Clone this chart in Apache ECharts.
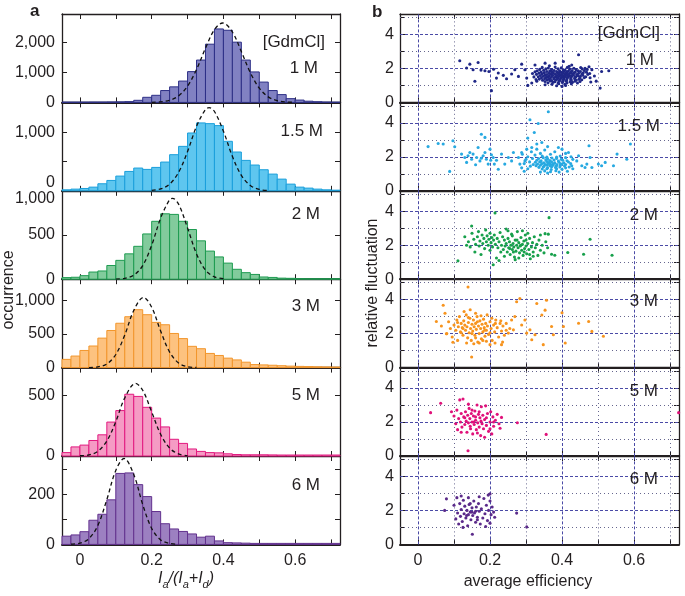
<!DOCTYPE html>
<html><head><meta charset="utf-8">
<script src="https://cdn.jsdelivr.net/npm/echarts@6/dist/echarts.min.js"></script>
<style>html,body{margin:0;padding:0;background:#fff}#c{width:685px;height:596px}</style>
</head><body><div id="c"></div>
<script>
// ---------- DATA ----------
const panelNames = ['1 M', '1.5 M', '2 M', '3 M', '5 M', '6 M'];
const binWidth = 0.025;
const binLeft = [-0.05,-0.025,0,0.025,0.05,0.075,0.1,0.125,0.15,0.175,0.2,0.225,0.25,0.275,0.3,0.325,0.35,0.375,0.4,0.425,0.45,0.475,0.5,0.525,0.55,0.575,0.6,0.625,0.65,0.675,0.7];

const hist1M  = [10,10,10,12,12,15,18,25,70,170,237,396,519,712,1027,1413,1943,2451,2407,2010,1413,1017,678,396,260,125,78,40,22,12,8];
const hist15M = [17,29,40,63,121,178,253,333,391,368,402,494,621,764,994,1167,1155,1121,851,667,523,443,362,287,201,115,63,46,29,17,11];
const hist2M  = [18,22,40,81,93,155,213,287,372,512,655,740,733,655,562,434,318,252,182,112,74,54,25,20,12,10,6,5,5,5,5];
const hist3M  = [122,171,254,320,437,550,657,754,858,784,670,635,506,430,315,280,210,180,140,114,80,45,40,35,28,22,18,15,12,10,8];
const hist5M  = [28,75,90,128,175,280,375,510,492,402,313,240,138,104,58,38,28,26,18,12,10,10,10,9,8,8,8,8,8,8,8];
const hist6M  = [33,38,51,97,121,179,285,287,240,192,132,83,62,52,42,29,33,14,7,6,5,4,4,4,4,4,4,4,4,4,4];

// dashed fit curves
const fit1M  = [[0.2,4],[0.225,19],[0.25,71],[0.275,217],[0.3,542],[0.325,1098],[0.35,1810],[0.375,2428],[0.398,2650],[0.425,2349],[0.45,1695],[0.475,994],[0.5,474],[0.525,184],[0.55,58],[0.575,15],[0.6,3]];
const fit15M = [[0.2,7],[0.225,32],[0.25,115],[0.275,317],[0.3,675],[0.325,1108],[0.35,1400],[0.36,1430],[0.375,1364],[0.4,1025],[0.425,593],[0.45,265],[0.475,91],[0.5,24],[0.525,5]];
const fit2M  = [[0.1,1],[0.125,9],[0.15,45],[0.175,154],[0.2,384],[0.225,691],[0.25,900],[0.258,915],[0.275,849],[0.3,580],[0.325,287],[0.35,103],[0.375,27],[0.4,5]];
const fit3M  = [[0.025,1],[0.05,11],[0.075,54],[0.1,194],[0.125,483],[0.15,846],[0.177,1040],[0.2,895],[0.225,541],[0.25,230],[0.275,68],[0.3,14],[0.325,2]];
const fit5M  = [[0,2],[0.025,9],[0.05,39],[0.075,124],[0.1,284],[0.125,480],[0.155,600],[0.175,543],[0.2,364],[0.225,179],[0.25,65],[0.275,17],[0.3,3]];
const fit6M  = [[-0.025,1],[0,5],[0.025,23],[0.05,76],[0.075,180],[0.1,297],[0.123,345],[0.15,281],[0.175,160],[0.2,64],[0.225,18],[0.25,4],[0.275,0]];

const histMax = [2950, 1520, 1000, 1310, 730, 355];
const histInterval = [1000, 500, 500, 500, 500, 100];
const histLabels = [[0,1000,2000],[0,1000],[0,500,1000],[0,500,1000],[0,500],[0,200]];
const xTicks = [0,0.1,0.2,0.3,0.4,0.5,0.6,0.7];
const xTickLabels = [0,0.2,0.4,0.6];
const fluctTicks = [0,2,4];

// scatter: [average efficiency, relative fluctuation]
const scat1M = [[0.116,2.45],[0.144,2.25],[0.167,2.35],[0.135,2.02],[0.153,1.92],[0.158,1.24],[0.186,1.86],[0.197,1.82],[0.204,0.69],[0.218,1.43],[0.223,1.73],[0.237,1.59],[0.26,1.67],[0.269,1.92],[0.246,1.39],[0.288,2.25],[0.297,1.92],[0.302,1.43],[0.305,1.0],[0.279,1.53],[0.175,1.9],[0.21,1.95],
[0.446,2.8],[0.404,2.41],[0.483,1.92],[0.51,1.82],[0.506,0.84],[0.53,1.86],[0.353,2.31],[0.325,2.2],[0.353,1.04],[0.316,1.14],[0.381,2.31],[0.427,2.2],[0.464,2.0],[0.40,0.94],[0.49,1.55],[0.495,1.25],[0.318,1.7],[0.322,1.5],[0.48,1.2],[0.475,2.1],
[0.345,2.06],[0.362,2.02],[0.381,2.08],[0.398,2.03],[0.415,2.07],[0.433,2.01],[0.452,2.05],
[0.338,1.94],[0.355,1.97],[0.371,1.93],[0.389,1.98],[0.404,1.92],[0.421,1.96],[0.439,1.93],[0.456,1.97],[0.47,1.94],
[0.331,1.86],[0.349,1.89],[0.366,1.85],[0.378,1.88],[0.393,1.86],[0.409,1.89],[0.418,1.84],[0.428,1.88],[0.445,1.86],[0.462,1.88],
[0.342,1.79],[0.358,1.82],[0.372,1.78],[0.385,1.81],[0.397,1.79],[0.405,1.82],[0.414,1.78],[0.426,1.81],[0.437,1.79],[0.451,1.82],[0.468,1.78],
[0.336,1.72],[0.351,1.75],[0.364,1.71],[0.376,1.74],[0.388,1.72],[0.393,1.75],[0.402,1.71],[0.411,1.74],[0.423,1.72],[0.434,1.75],[0.446,1.71],[0.459,1.74],
[0.329,1.65],[0.345,1.68],[0.358,1.64],[0.369,1.67],[0.381,1.65],[0.391,1.68],[0.399,1.64],[0.408,1.67],[0.417,1.65],[0.429,1.68],[0.441,1.64],[0.455,1.67],[0.472,1.65],
[0.34,1.58],[0.353,1.61],[0.365,1.57],[0.374,1.6],[0.386,1.58],[0.395,1.61],[0.404,1.57],[0.413,1.6],[0.421,1.58],[0.432,1.61],[0.444,1.57],[0.458,1.6],
[0.334,1.51],[0.348,1.54],[0.361,1.5],[0.372,1.53],[0.383,1.51],[0.392,1.54],[0.401,1.5],[0.409,1.53],[0.418,1.51],[0.427,1.54],[0.438,1.5],[0.451,1.53],[0.466,1.51],
[0.343,1.44],[0.356,1.47],[0.368,1.43],[0.379,1.46],[0.389,1.44],[0.398,1.47],[0.406,1.43],[0.415,1.46],[0.425,1.44],[0.436,1.47],[0.449,1.43],[0.462,1.46],
[0.337,1.37],[0.352,1.4],[0.364,1.36],[0.377,1.39],[0.387,1.37],[0.396,1.4],[0.405,1.36],[0.414,1.39],[0.424,1.37],[0.435,1.4],[0.447,1.36],
[0.346,1.3],[0.359,1.33],[0.371,1.29],[0.383,1.32],[0.394,1.3],[0.403,1.33],[0.413,1.29],[0.426,1.32],[0.439,1.3],[0.455,1.33],
[0.353,1.23],[0.367,1.26],[0.38,1.22],[0.392,1.25],[0.402,1.23],[0.411,1.26],[0.423,1.22],[0.436,1.25],[0.45,1.23],
[0.361,1.15],[0.375,1.18],[0.389,1.14],[0.401,1.17],[0.414,1.15],[0.429,1.18],[0.443,1.14],
[0.372,1.07],[0.391,1.1],[0.408,1.06],[0.426,1.09],[0.385,0.98],[0.41,0.99],
[0.325,1.8],[0.328,1.35],[0.477,1.7],[0.478,1.45],[0.365,2.15],[0.42,2.12],[0.33,1.25]];

const scat15M = [[0.362,4.65],[0.311,4.18],[0.334,3.96],[0.323,3.43],[0.305,3.1],[0.176,3.33],[0.186,3.14],[0.097,2.94],[0.59,2.75],[0.475,2.65],
[0.028,2.6],[0.056,2.78],[0.07,2.75],[0.088,1.14],[0.102,2.59],[0.121,2.16],[0.13,1.96],[0.139,2.06],[0.149,1.86],[0.153,2.16],[0.163,1.96],[0.167,2.55],[0.172,1.76],[0.181,2.06],[0.186,2.25],[0.19,1.86],[0.195,1.57],[0.2,2.45],[0.204,2.12],[0.209,1.96],[0.218,1.8],[0.223,1.27],[0.232,2.16],[0.241,1.57],[0.251,1.96],[0.26,1.76],[0.265,2.25],
[0.135,1.67],[0.144,2.25],[0.16,1.53],[0.176,1.92],[0.202,1.8],[0.212,1.57],
[0.4,1.57],[0.427,1.47],[0.441,1.76],[0.455,1.47],[0.464,1.37],[0.469,1.57],[0.478,1.96],[0.483,1.37],[0.501,1.57],[0.51,1.47],[0.52,1.67],[0.543,1.47],[0.553,2.16],[0.58,1.86],[0.39,2.55],[0.418,2.25],[0.446,2.06],
[0.279,1.96],[0.288,2.25],[0.302,2.45],[0.297,1.76],[0.283,1.57],[0.316,2.55],[0.33,2.75],[0.344,2.84],
[0.335,1.9],[0.348,1.95],[0.36,1.88],[0.372,1.93],[0.385,1.9],[0.398,1.85],
[0.33,1.8],[0.342,1.76],[0.355,1.82],[0.366,1.78],[0.378,1.81],[0.39,1.75],[0.402,1.8],[0.414,1.77],
[0.326,1.68],[0.338,1.7],[0.35,1.65],[0.358,1.72],[0.364,1.66],[0.371,1.7],[0.38,1.64],[0.392,1.68],[0.405,1.65],[0.418,1.69],
[0.332,1.58],[0.344,1.6],[0.353,1.55],[0.361,1.61],[0.368,1.56],[0.376,1.59],[0.386,1.54],[0.396,1.58],[0.41,1.55],[0.424,1.6],
[0.328,1.48],[0.34,1.5],[0.35,1.45],[0.359,1.51],[0.367,1.47],[0.375,1.5],[0.384,1.45],[0.395,1.49],[0.407,1.46],
[0.336,1.38],[0.348,1.4],[0.36,1.36],[0.371,1.41],[0.382,1.37],[0.394,1.4],[0.41,1.35],
[0.345,1.28],[0.358,1.3],[0.37,1.25],[0.385,1.29],[0.4,1.27],
[0.352,1.17],[0.368,1.12],[0.383,1.18],[0.36,1.05],[0.392,1.1],
[0.305,2.0],[0.31,1.7],[0.315,2.3],[0.32,1.55],[0.318,1.9],[0.325,2.1],[0.34,2.2],[0.352,2.4],[0.368,2.15],[0.38,2.3],[0.395,2.05],[0.41,2.2],[0.425,2.0],[0.43,1.85],[0.42,1.4],[0.43,1.3],[0.305,1.3],[0.312,1.45],[0.295,1.6],[0.3,1.85],[0.33,2.45],[0.36,2.6],[0.4,2.45],[0.345,2.05],[0.358,1.98],[0.385,1.98],[0.41,1.95],[0.29,2.15],[0.288,1.35],[0.295,1.15],[0.34,1.1],[0.415,1.15]];

const scat2M = [[0.111,1.08],[0.149,3.13],[0.214,3.9],[0.364,3.62],[0.478,2.35],[0.539,1.41],[0.46,1.47],[0.416,1.57],[0.38,1.41],[0.371,1.47],[0.353,2.68],[0.362,2.65],[0.209,0.85],
[0.13,2.5],[0.135,2.0],[0.14,2.2],[0.145,1.9],[0.15,2.7],[0.155,2.35],[0.158,1.6],[0.16,2.05],[0.165,2.5],[0.168,2.8],[0.17,1.95],[0.172,2.25],[0.175,1.45],[0.178,2.6],[0.18,2.1],[0.183,2.4],[0.185,1.8],[0.188,2.9],[0.19,2.2],[0.192,2.55],[0.195,2.0],[0.197,2.35],[0.2,1.7],[0.2,2.7],[0.203,2.15],[0.205,2.45],[0.207,1.9],[0.21,2.3],[0.212,2.6],[0.215,2.05],[0.218,1.25],[0.22,2.4],[0.222,1.85],[0.225,2.2],[0.228,2.75],[0.23,1.6],[0.232,2.0],[0.235,2.5],[0.237,1.75],[0.24,2.3],
[0.242,1.95],[0.245,2.1],[0.248,1.6],[0.25,2.4],[0.252,1.85],[0.254,2.2],[0.256,1.45],[0.258,2.0],[0.26,2.65],[0.262,1.75],[0.264,2.1],[0.266,1.9],[0.268,1.3],[0.27,2.3],[0.272,1.65],[0.274,2.0],[0.276,2.8],[0.278,1.85],[0.28,2.15],[0.282,1.55],[0.284,1.95],[0.286,2.45],[0.288,1.7],[0.29,2.05],[0.292,1.4],[0.294,2.25],[0.296,1.8],[0.298,2.6],[0.3,1.95],[0.302,1.5],[0.305,2.1],[0.308,1.75],[0.31,2.4],[0.312,1.2],[0.315,1.9],[0.318,2.15],[0.32,1.6],[0.323,2.5],[0.326,1.85],[0.33,2.05],[0.333,1.4],[0.336,2.3],[0.34,1.7],[0.345,2.0],[0.35,1.55],[0.355,2.2],[0.36,1.85],[0.25,2.85],[0.262,2.55],[0.27,1.15],[0.29,2.85],[0.305,2.7],[0.24,1.35],[0.225,1.1],[0.245,2.95],[0.32,1.35],[0.28,1.25],[0.34,2.6],[0.275,2.3],[0.285,2.0],[0.265,1.6],[0.255,1.8],[0.295,1.6],[0.3,2.3],[0.31,1.45]];

const scat3M = [[0.139,4.74],[0.07,3.67],[0.051,2.71],[0.079,1.99],[0.097,1.49],[0.149,0.62],[0.274,3.87],[0.283,4.06],[0.33,3.77],[0.357,3.96],[0.353,3.38],[0.344,3.09],[0.4,3.23],[0.404,2.42],[0.371,2.42],[0.376,1.93],[0.409,1.45],[0.446,2.61],[0.474,2.71],[0.483,2.13],[0.515,1.84],[0.348,1.35],[0.325,1.93],[0.302,2.03],[0.288,2.51],[0.265,2.22],[0.251,2.03],[0.269,3.0],[0.297,2.8],[0.311,2.22],[0.316,1.64],[0.232,1.35],[0.214,1.45],
[0.1,2.5],[0.105,2.2],[0.108,2.8],[0.112,2.4],[0.115,3.0],[0.118,2.1],[0.12,2.6],[0.123,2.35],[0.125,1.9],[0.127,2.75],[0.13,2.5],[0.132,2.2],[0.134,3.1],[0.136,2.4],[0.138,1.75],[0.14,2.65],[0.142,2.05],[0.144,2.9],[0.146,2.3],[0.148,1.6],[0.15,2.55],[0.152,2.15],[0.154,2.8],[0.156,2.4],[0.158,1.9],[0.16,2.6],[0.162,2.25],[0.164,3.0],[0.166,1.5],[0.168,2.45],[0.17,2.0],[0.172,2.75],[0.174,2.3],[0.176,1.7],[0.178,2.55],[0.18,2.1],[0.182,2.85],[0.184,2.35],[0.186,1.85],[0.188,2.6],[0.19,2.2],[0.193,2.45],[0.196,1.95],[0.2,2.7],[0.203,2.3],[0.206,1.6],[0.21,2.5],[0.213,2.1],[0.216,2.8],[0.22,2.35],[0.224,1.8],[0.228,2.6],[0.232,2.15],[0.236,2.45],[0.24,1.9],
[0.09,2.3],[0.085,2.7],[0.08,2.0],[0.075,3.2],[0.065,2.45],[0.095,1.8],[0.11,1.6],[0.128,3.3],[0.145,3.4],[0.16,3.2],[0.175,3.05],[0.192,3.1],[0.135,1.45],[0.155,1.4],[0.17,1.45],[0.19,1.55],[0.2,1.35],[0.14,2.95],[0.165,2.7],[0.185,2.2],[0.15,2.0],[0.125,2.3],[0.2,2.05],[0.215,2.6],[0.23,2.75],[0.245,2.6],[0.255,2.3],[0.26,2.8],[0.235,1.5],[0.245,2.2],[0.12,2.05],[0.16,1.75],[0.18,1.6],[0.11,2.65],[0.205,2.9]];

const scat5M = [[0.035,2.55],[0.063,3.1],[0.093,2.6],[0.139,0.31],[0.232,2.27],[0.228,1.63],[0.276,1.96],[0.356,1.27],[0.724,2.55],
[0.1,2.35],[0.105,1.9],[0.108,2.7],[0.11,1.55],[0.113,2.2],[0.116,3.3],[0.118,2.0],[0.12,2.5],[0.122,1.7],[0.125,3.35],[0.127,2.3],[0.13,1.85],[0.132,2.6],[0.134,2.05],[0.136,1.4],[0.138,2.4],[0.14,1.95],[0.142,2.8],[0.144,2.2],[0.146,1.6],[0.148,2.5],[0.15,2.0],[0.152,1.3],[0.154,2.35],[0.156,1.85],[0.158,2.65],[0.16,2.1],[0.162,1.55],[0.164,3.0],[0.166,1.95],[0.168,2.45],[0.17,1.7],[0.172,2.25],[0.174,1.2],[0.176,2.9],[0.178,1.9],[0.18,2.4],[0.182,1.6],[0.185,2.15],[0.188,2.95],[0.19,1.8],[0.193,2.5],[0.196,1.45],[0.2,2.0],[0.202,2.6],[0.205,1.3],[0.208,2.3],[0.21,1.75],[0.215,2.1],[0.22,2.45],[0.225,1.9],[0.13,2.25],[0.145,1.75],[0.16,2.3],[0.175,2.05],[0.19,2.25],[0.15,2.7],[0.12,1.4],[0.2,1.6],[0.165,1.35],[0.14,3.05],[0.185,1.1],[0.21,2.0],[0.155,2.0],[0.17,2.6]];

const scat6M = [[0.079,2.68],[0.074,2.0],[0.274,1.84],[0.151,0.6],[0.2,2.97],[0.302,1.03],
[0.1,2.3],[0.105,1.5],[0.108,2.75],[0.11,1.85],[0.113,1.2],[0.116,2.4],[0.118,1.65],[0.12,2.05],[0.123,1.35],[0.126,2.6],[0.128,1.8],[0.13,2.25],[0.133,1.55],[0.136,2.0],[0.138,1.1],[0.14,1.75],[0.142,2.35],[0.145,1.9],[0.147,1.45],[0.15,2.15],[0.152,1.7],[0.155,2.55],[0.157,1.85],[0.16,1.3],[0.162,2.2],[0.165,1.6],[0.168,2.4],[0.17,1.95],[0.173,1.2],[0.176,2.1],[0.18,1.55],[0.183,2.7],[0.186,1.8],[0.19,2.3],[0.193,1.4],[0.196,2.0],[0.2,2.55],[0.203,1.75],[0.206,2.2],[0.21,1.9],[0.213,1.6],[0.12,2.85],[0.14,2.75],[0.17,2.8],[0.195,2.9],[0.135,1.7],[0.16,1.95],[0.145,2.4],[0.188,1.05],[0.125,1.0],[0.2,1.25],[0.15,1.9],[0.165,1.45]];

// ---------- STYLE / LAYOUT ----------
const hists = [hist1M, hist15M, hist2M, hist3M, hist5M, hist6M];
const fits = [fit1M, fit15M, fit2M, fit3M, fit5M, fit6M];
const scats = [scat1M, scat15M, scat2M, scat3M, scat5M, scat6M];
const fillC = ['#8181c2','#5ec6ef','#82cb9c','#fdc27f','#f59bc4','#9c80c1'];
const edgeC = ['#2d2f86','#1a9fdb','#1d9b50','#f2962c','#e2187f','#62318e'];
const dotC  = ['#1f2787','#27a9e1','#17a04b','#f7941e','#e0117a','#5b2a8a'];
const FONT = "'Liberation Sans', Arial, Helvetica, sans-serif";
const TXT = '#231f20';
const T0 = 14, PH = 88.4;
const LX = 62, LW = 278, RX = 400, RW = 279;

function fmtThousands(v){ return v >= 1000 ? Math.floor(v/1000) + ',' + String(v % 1000).padStart(3,'0') : String(v); }

const grid = [], xAxis = [], yAxis = [], series = [];
const tickStyle = {show:true, inside:true, length:5, lineStyle:{color:TXT, width:1}};

function addAxes(g, i, isHist){
  const bottom = i === 5;
  xAxis.push({gridIndex:g, type:'value', min:-0.05, max:0.725, position:'bottom',
    axisLine:{show:true, onZero:false, lineStyle:{color:TXT, width:2}},
    axisTick:Object.assign({customValues:xTicks}, tickStyle),
    axisLabel:{show:bottom, customValues:xTickLabels, margin:8, color:TXT, fontSize:16, fontFamily:FONT,
      formatter:v => v === 0 ? '0' : v.toFixed(1)},
    splitLine:{show:false}});
  xAxis.push({gridIndex:g, type:'value', min:-0.05, max:0.725, position:'top',
    axisLine:{show:true, onZero:false, lineStyle:{color:TXT, width:1.3}},
    axisTick:Object.assign({customValues:xTicks}, tickStyle),
    axisLabel:{show:false}, splitLine:{show:false}});
  const ymax = isHist ? histMax[i] : 5.2;
  const yint = isHist ? histInterval[i] : 1;
  const labs = isHist ? histLabels[i] : fluctTicks;
  const yl = {gridIndex:g, type:'value', min:0, max:ymax, interval:yint, position:'left',
    axisLine:{show:true, onZero:false, lineStyle:{color:TXT, width:1.3}},
    axisTick:tickStyle,
    axisLabel:{show:true, margin:isHist ? 7 : 6, color:TXT, fontSize:16, fontFamily:FONT,
      showMaxLabel:true, showMinLabel:true,
      formatter:v => labs.indexOf(v) >= 0 ? fmtThousands(v) : ''},
    splitLine:{show:false}};
  if (isHist && i === 1) yl.axisLabel.verticalAlignMinLabel = 'bottom';
  if (isHist && i === 2) yl.axisLabel.verticalAlignMaxLabel = 'top';
  yAxis.push(yl);
  yAxis.push({gridIndex:g, type:'value', min:0, max:ymax, interval:yint, position:'right',
    axisLine:{show:true, onZero:false, lineStyle:{color:TXT, width:1.3}},
    axisTick:tickStyle, axisLabel:{show:false}, splitLine:{show:false}});
}

const major = {color:'#4a4aa6', width:1, type:[3,2]};
const minor = {color:'#66668e', width:1, type:[1,3]};

for (let i = 0; i < 6; i++) {
  let g = i;
  grid.push({left:LX, top:T0 + i*PH, width:LW, height:PH});
  addAxes(g, i, true);
  const hdata = binLeft.map((b, k) => [b, b + binWidth, hists[i][k]]);
  series.push({type:'custom', xAxisIndex:2*g, yAxisIndex:2*g, data:hdata, encode:{x:[0,1], y:2}, z:2,
    renderItem:(params, api) => {
      const p0 = api.coord([api.value(0), 0]);
      const p1 = api.coord([api.value(1), api.value(2)]);
      return {type:'rect', shape:{x:p0[0], y:p1[1], width:p1[0]-p0[0], height:p0[1]-p1[1]},
        style:{fill:fillC[i], stroke:edgeC[i], lineWidth:1}};
    }});
  series.push({type:'line', xAxisIndex:2*g, yAxisIndex:2*g, data:fits[i], smooth:0.35, showSymbol:false, z:5,
    lineStyle:{color:'#111', width:1.3, type:[4,3]}});
}
for (let i = 0; i < 6; i++) {
  let g = 6 + i;
  grid.push({left:RX, top:T0 + i*PH, width:RW, height:PH});
  addAxes(g, i, false);
  series.push({type:'scatter', xAxisIndex:2*g, yAxisIndex:2*g, data:scats[i], symbol:'circle', symbolSize:3.1, z:4,
    itemStyle:{color:dotC[i], opacity:1},
    markLine:{silent:true, symbol:['none','none'], label:{show:false}, animation:false, z:1,
      data:[].concat(
        [0,0.2,0.4,0.6].map(v => ({xAxis:v, lineStyle:major})),
        [0.1,0.3,0.5,0.7].map(v => ({xAxis:v, lineStyle:minor})),
        [2,4].map(v => ({yAxis:v, lineStyle:major})),
        [1,3,5].map(v => ({yAxis:v, lineStyle:minor})))}});
}

// texts
const txt = (text, x, y, size) => ({type:'text', x, y, z:100,
  style:{text, fill:TXT, font:(size || 16) + 'px ' + FONT, align:'right', verticalAlign:'middle'}});
const graphic = [
  {type:'text', x:30, y:11, z:100, style:{text:'a', fill:TXT, font:'bold 17px ' + FONT, align:'left', verticalAlign:'middle'}},
  {type:'text', x:372, y:12, z:100, style:{text:'b', fill:TXT, font:'bold 17px ' + FONT, align:'left', verticalAlign:'middle'}},
  txt('[GdmCl]', 325, 42, 17), txt('[GdmCl]', 660, 33, 17),
];
const leftY = [68, 131, 214, 306.5, 395.5, 485];
const rightY = [60, 126, 215, 301.5, 391, 479];
const leftR = [318, 323, 320, 320, 320, 320];
const rightR = [654, 660, 658, 658, 658, 658];
for (let i = 0; i < 6; i++) {
  graphic.push(txt(panelNames[i], leftR[i], leftY[i], 17));
  graphic.push(txt(panelNames[i], rightR[i], rightY[i], 17));
}
graphic.push({type:'text', x:9, y:290, rotation:Math.PI/2, z:100,
  style:{text:'occurrence', fill:TXT, font:'16px ' + FONT, align:'center', verticalAlign:'middle'}});
graphic.push({type:'text', x:373, y:283, rotation:Math.PI/2, z:100,
  style:{text:'relative fluctuation', fill:TXT, font:'16px ' + FONT, align:'center', verticalAlign:'middle'}});
graphic.push({type:'text', x:528, y:582, z:100,
  style:{text:'average efficiency', fill:TXT, font:'16px ' + FONT, align:'center', verticalAlign:'middle'}});
graphic.push({type:'text', x:186, y:579, z:100,
  style:{text:'{i|I}{s|a}{i|/(I}{s|a}{i|+I}{s|d}{i|)}', align:'center', verticalAlign:'middle',
    rich:{
      i:{fontSize:16, fontStyle:'italic', fontFamily:FONT, fill:TXT, lineHeight:22},
      s:{fontSize:11, fontStyle:'italic', fontFamily:FONT, fill:TXT, lineHeight:22, verticalAlign:'bottom'}
    }}});

const chart = echarts.init(document.getElementById('c'), null, {renderer:'canvas'});
chart.setOption({animation:false, backgroundColor:'#fff', grid, xAxis, yAxis, series, graphic});
</script></body></html>
